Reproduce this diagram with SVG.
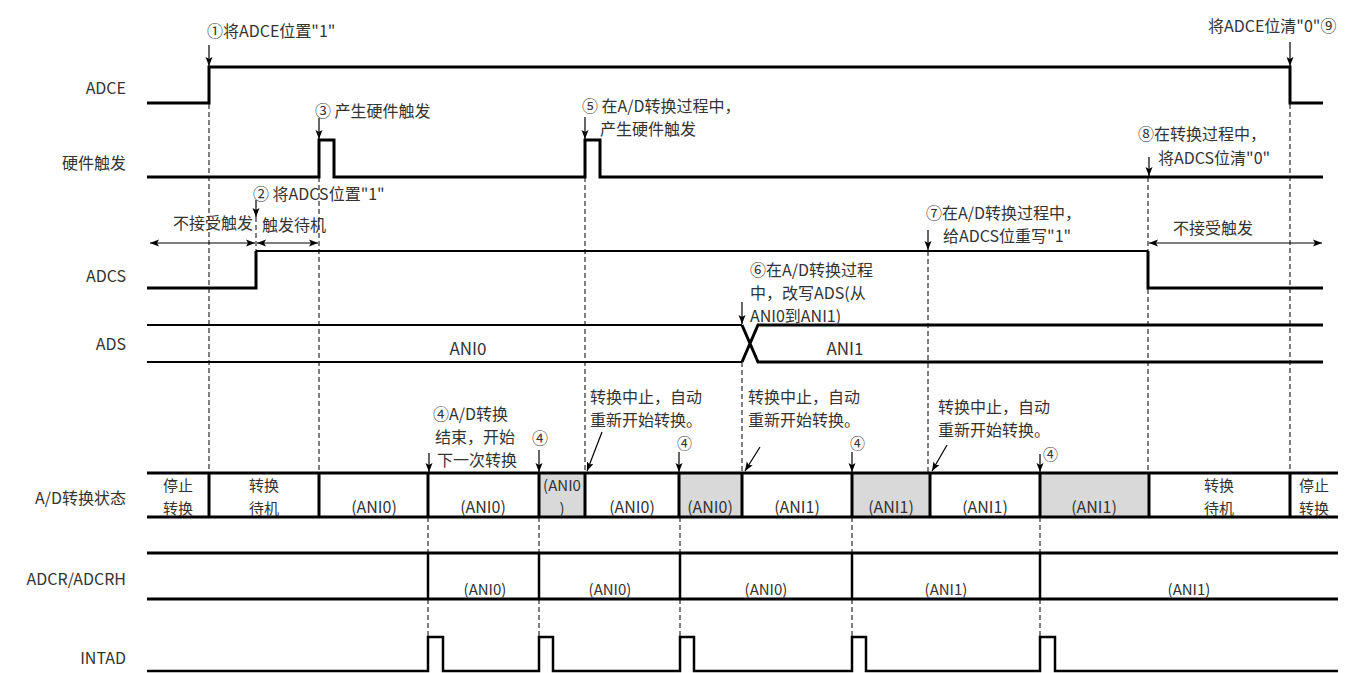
<svg xmlns="http://www.w3.org/2000/svg" width="1364" height="673" viewBox="0 0 1364 673">
<style>
text{font-family:"Noto Sans CJK SC","Noto Sans",sans-serif;font-size:16px;fill:#333;dominant-baseline:central}
.lbl{text-anchor:end}
.mid{text-anchor:middle}
.sig{fill:none;stroke:#000;stroke-width:3;stroke-linejoin:miter}
.thin{fill:none;stroke:#000;stroke-width:2}
.dash{fill:none;stroke:#000;stroke-width:1;stroke-dasharray:5 3}
.arr{fill:none;stroke:#000;stroke-width:1.2;marker-end:url(#ah)}
.dbl{fill:none;stroke:#000;stroke-width:1.2;marker-end:url(#ah);marker-start:url(#ah)}
.gray{fill:#d9d9d9;stroke:none}
.small{font-size:15px}
.box{font-size:15px}
</style>
<defs>
<marker id="ah" markerUnits="userSpaceOnUse" markerWidth="10" markerHeight="8" refX="9" refY="4" orient="auto-start-reverse">
<path d="M0,0.5 L9,4 L0,7.5 L2,4 z" fill="#000"/>
</marker>
</defs>
<rect width="1364" height="673" fill="#fff"/>

<g id="labels">
<text class="lbl" x="126" y="87">ADCE</text>
<text class="lbl" x="126" y="162">硬件触发</text>
<text class="lbl" x="126" y="275">ADCS</text>
<text class="lbl" x="126" y="343">ADS</text>
<text class="lbl" x="126" y="497">A/D转换状态</text>
<text class="lbl" x="126" y="578">ADCR/ADCRH</text>
<text class="lbl" x="126" y="657">INTAD</text>
</g>

<g id="guides">
<path class="dash" d="M209,104 V473 M319,177 V473 M585,177 V473 M742,362 V473 M928,251 V473 M1148,177 V473 M1290,104 V473 M256,217 V251"/>
<path class="dash" d="M428,517 V553 M428,599 V637 M539,517 V553 M539,599 V637 M680,517 V553 M680,599 V637 M852,517 V553 M852,599 V637 M1040,517 V553 M1040,599 V637"/>
</g>

<g id="ADCE">
<path class="sig" d="M147,103 H209 V67 H1290 V103 H1323"/>
</g>

<g id="hwtrigger">
<path class="sig" d="M147,177 H319 V140 H334 V177 H585 V140 H600 V177 H1323"/>
</g>

<g id="ADCS">
<path class="sig" d="M147,288 H256 V251"/>
<path class="thin" d="M256,251 H1148"/>
<path class="sig" d="M1148,251 V288 H1323"/>
</g>

<g id="ADS">
<path class="thin" d="M147,325 H742 M147,362 H742"/>
<path class="sig" d="M742,325 L758,362 H1323 M742,362 L758,325 H1323"/>
<text x="468" y="347" class="mid" style="font-size:17px">ANI0</text>
<text x="845" y="347" class="mid" style="font-size:17px">ANI1</text>
</g>

<g id="adstate">
<rect class="gray" x="539" y="473" width="46" height="44"/>
<rect class="gray" x="679" y="473" width="63" height="44"/>
<rect class="gray" x="852" y="473" width="78" height="44"/>
<rect class="gray" x="1040" y="473" width="109" height="44"/>
<path class="sig" d="M147,473 H1338 M147,517 H1338 M209,473 V517 M319,473 V517 M428,473 V517 M539,473 V517 M585,473 V517 M679,473 V517 M742,473 V517 M852,473 V517 M930,473 V517 M1040,473 V517 M1149,473 V517 M1290,473 V517"/>
<text class="mid box" x="178" y="484">停止</text>
<text class="mid box" x="178" y="507">转换</text>
<text class="mid box" x="264" y="484">转换</text>
<text class="mid box" x="264" y="507">待机</text>
<text class="mid" x="374" y="506">(ANI0)</text>
<text class="mid" x="483" y="506">(ANI0)</text>
<text class="mid box" x="562" y="484">(ANI0</text>
<text class="mid box" x="562" y="507">)</text>
<text class="mid" x="632" y="506">(ANI0)</text>
<text class="mid" x="710" y="506">(ANI0)</text>
<text class="mid" x="797" y="506">(ANI1)</text>
<text class="mid" x="891" y="506">(ANI1)</text>
<text class="mid" x="985" y="506">(ANI1)</text>
<text class="mid" x="1094" y="506">(ANI1)</text>
<text class="mid box" x="1219" y="484">转换</text>
<text class="mid box" x="1219" y="507">待机</text>
<text class="mid box" x="1314" y="484">停止</text>
<text class="mid box" x="1314" y="507">转换</text>
</g>

<g id="ADCR">
<path class="sig" d="M147,553 H1338 M147,599 H1338"/>
<path class="sig" style="stroke-width:2.5" d="M428,553 V599 M539,553 V599 M680,553 V599 M852,553 V599 M1040,553 V599"/>
<text class="mid small" x="485" y="588">(ANI0)</text>
<text class="mid small" x="610" y="588">(ANI0)</text>
<text class="mid small" x="766" y="588">(ANI0)</text>
<text class="mid small" x="946" y="588">(ANI1)</text>
<text class="mid small" x="1189" y="588">(ANI1)</text>
</g>

<g id="INTAD">
<path class="sig" style="stroke-width:2.5" d="M147,671 H428 V637 H443 V671 H539 V637 H553 V671 H680 V637 H694 V671 H852 V637 H866 V671 H1040 V637 H1055 V671 H1338"/>
</g>

<g id="connectors">
<path class="arr" d="M209,45 V66"/>
<path class="arr" d="M1290,42 V66"/>
<path class="arr" d="M319,118 V139"/>
<path class="arr" d="M585,117 V139"/>
<path class="arr" d="M1149,157 V176"/>
<path class="arr" d="M256,200 V217"/>
<path class="arr" d="M928,230 V250"/>
<path class="arr" d="M742,302 V324"/>
<path class="dbl" d="M150,243 H255"/>
<path class="dbl" d="M257,243 H318"/>
<path class="dbl" d="M1149,243 H1322"/>
<path class="arr" d="M429,453 V472"/>
<path class="arr" d="M539,450 V472"/>
<path class="arr" d="M679,452 V472"/>
<path class="arr" d="M852,452 V472"/>
<path class="arr" d="M1040,454 V472"/>
<path class="arr" d="M602,432 L587,471"/>
<path class="arr" d="M760,447 L745,471"/>
<path class="arr" d="M947,445 L932,471"/>
</g>

<g id="annotations">
<text x="207" y="30">①将ADCE位置"1"</text>
<text x="1208" y="25">将ADCE位清"0"⑨</text>
<text x="315" y="110">③ 产生硬件触发</text>
<text x="582" y="105">⑤ 在A/D转换过程中，</text>
<text x="600" y="128">产生硬件触发</text>
<text x="1138" y="133">⑧在转换过程中，</text>
<text x="1158" y="157">将ADCS位清"0"</text>
<text x="253" y="193">② 将ADCS位置"1"</text>
<text x="253" y="222" class="lbl">不接受触发</text>
<text x="262" y="224">触发待机</text>
<text x="926" y="212">⑦在A/D转换过程中，</text>
<text x="943" y="235">给ADCS位重写"1"</text>
<text x="1173" y="227">不接受触发</text>
<text x="750" y="269">⑥在A/D转换过程</text>
<text x="750" y="292">中，改写ADS(从</text>
<text x="750" y="315">ANI0到ANI1)</text>
<text x="433" y="413">④A/D转换</text>
<text x="435" y="436">结束，开始</text>
<text x="437" y="459">下一次转换</text>
<text x="532" y="437">④</text>
<text x="590" y="396">转换中止，自动</text>
<text x="590" y="419">重新开始转换。</text>
<text x="677" y="442" class="box">④</text>
<text x="748" y="396">转换中止，自动</text>
<text x="748" y="419">重新开始转换。</text>
<text x="850" y="442" class="box">④</text>
<text x="938" y="406">转换中止，自动</text>
<text x="938" y="429">重新开始转换。</text>
<text x="1043" y="453" class="box">④</text>
</g>
</svg>
